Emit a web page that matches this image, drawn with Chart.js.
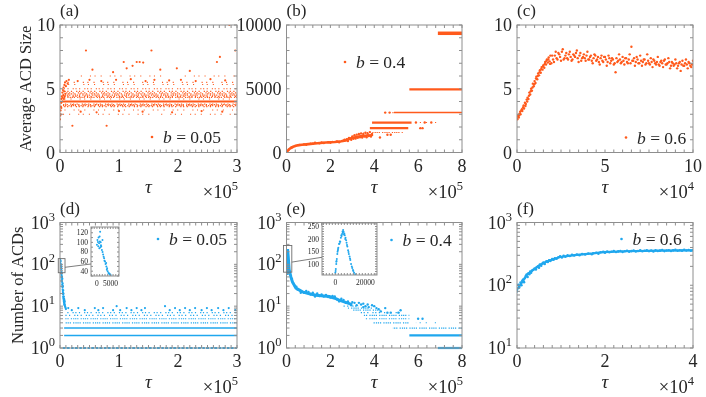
<!DOCTYPE html>
<html>
<head>
<meta charset="utf-8">
<script src="https://cdn.jsdelivr.net/npm/chart.js@4.4.1/dist/chart.umd.min.js"></script>
<style>
  html, body { margin: 0; padding: 0; background: #fff; }
  #fig { position: relative; width: 706px; height: 397px; overflow: hidden; background: #fff; }
  #fig canvas { position: absolute; left: 0; top: 0; }
</style>
</head>
<body>
<div id="fig">
  <canvas id="pa" width="706" height="397"></canvas>
  <canvas id="pb" width="706" height="397"></canvas>
  <canvas id="pc" width="706" height="397"></canvas>
  <canvas id="pd" width="706" height="397"></canvas>
  <canvas id="pe" width="706" height="397"></canvas>
  <canvas id="pf" width="706" height="397"></canvas>
  <canvas id="insd" width="706" height="397"></canvas>
  <canvas id="inse" width="706" height="397"></canvas>
</div>
<script>
// ---- data (tau in units of the axis multiplier) ----

// (a) b = 0.05, average ACD size, tau x 1e5
const aRowSize = [3.0, 3.0, 3.33, 3.6, 3.67, 3.75, 3.8, 4.0, 4.2, 4.33, 4.4, 4.5, 4.6, 4.67, 4.8, 5.0, 5.33, 5.5, 6.0, 6.0];
const aRowFrom = [0.05, 1.65, 0.05, 0.04, 0.04, 0.05, 0.06, 0.03, 0.05, 0.05, 0.06, 0.05, 0.06, 0.07, 0.08, 0.06, 0.09, 0.12, 0.28, 2.08];
const aRowTo   = [1.55, 3.0, 3.0, 3.0, 3.0, 3.0, 3.0, 3.0, 3.0, 3.0, 3.0, 3.0, 3.0, 3.0, 3.0, 3.0, 3.0, 3.0, 1.78, 3.0];
const aPoints = [
  [0.00, 2.6], [0.005, 2.9], [0.01, 3.3], [0.012, 3.0], [0.015, 3.6], [0.02, 3.9], [0.022, 3.5], [0.025, 4.2],
  [0.03, 4.4], [0.035, 4.0], [0.04, 4.7], [0.045, 4.3], [0.05, 4.9], [0.055, 4.5], [0.06, 5.1], [0.065, 4.2],
  [0.07, 4.8], [0.075, 5.3], [0.08, 4.4], [0.085, 5.5], [0.09, 4.6], [0.1, 5.2], [0.11, 5.6], [0.13, 5.4], [0.15, 5.7],
  [0.44, 8.0], [1.55, 8.0], [2.97, 8.0], [2.71, 7.5], [2.87, 10.0], [1.08, 7.1], [1.13, 6.6], [1.23, 6.8],
  [1.3, 7.1], [1.35, 7.1], [1.41, 7.05], [1.98, 6.6], [2.66, 7.1], [0.21, 2.1], [0.79, 2.1], [0.55, 6.5],
  [0.9, 6.3], [2.2, 6.4], [1.7, 6.5], [0.3, 5.6], [0.5, 5.7], [0.7, 5.6], [0.95, 5.7], [1.2, 5.75], [1.45, 5.6],
  [1.6, 5.7], [1.85, 5.65], [2.05, 5.7], [2.3, 5.6], [2.55, 5.75], [2.8, 5.65], [0.35, 3.2], [0.62, 3.15],
  [1.0, 3.25], [1.4, 3.2], [1.9, 3.15], [2.4, 3.25], [2.75, 3.2]
];

// (b) b = 0.4, average ACD size, tau x 1e5
const bRowSize = [9350, 4950, 3130, 3130, 2350, 2350, 1910, 1570, 1350];
const bRowFrom = [6.9, 5.6, 4.9, 4.45, 3.9, 5.7, 3.8, 3.5, 3.3];
const bRowTo   = [8.0, 8.0, 8.0, 4.9, 5.7, 6.9, 5.55, 5.3, 3.95];
const bCore = [
  [0, 0], [0.05, 120], [0.15, 300], [0.3, 450], [0.5, 560], [0.7, 610], [1.0, 660], [1.4, 730], [1.8, 780],
  [2.2, 820], [2.5, 880], [2.7, 950], [2.9, 1100], [3.1, 1180], [3.3, 1250], [3.5, 1300], [3.7, 1330], [3.9, 1350]
];
const bPoints = [
  [0.02, 60], [0.1, 230], [0.2, 380], [0.25, 420], [0.4, 520], [0.6, 600], [0.8, 640], [0.9, 600], [1.1, 700],
  [1.2, 690], [1.3, 760], [1.5, 720], [1.6, 780], [1.7, 750], [1.9, 800], [2.0, 760], [2.1, 830], [2.3, 860],
  [2.4, 800], [2.6, 920], [2.65, 1000], [2.75, 1050], [2.8, 900], [2.85, 1150], [2.95, 1000], [3.0, 1250],
  [3.05, 1080], [3.1, 1350], [3.15, 1100], [3.2, 1400], [3.25, 1150], [3.3, 1450], [3.35, 1200], [3.4, 1500],
  [3.45, 1180], [3.5, 1450], [3.55, 1250], [3.6, 1550], [3.65, 1200], [3.7, 1480], [3.75, 1300], [3.8, 1600],
  [3.85, 1250], [3.9, 1450], [4.26, 1175], [4.6, 1390], [4.75, 1390], [6.1, 1910], [6.2, 1910], [4.5, 3130],
  [4.7, 3130], [5.9, 2350], [6.3, 2350], [6.6, 2350]
];

// (c) b = 0.6, average ACD size, tau x 1e4
const cRise = [
  [0.00, 2.70], [0.05, 2.85], [0.10, 2.75], [0.15, 3.05], [0.20, 3.00], [0.25, 3.30], [0.30, 3.25], [0.35, 3.55],
  [0.40, 3.45], [0.45, 3.90], [0.50, 3.80], [0.55, 4.15], [0.60, 4.30], [0.65, 4.20], [0.70, 4.70], [0.75, 4.55],
  [0.80, 5.00], [0.85, 4.85], [0.90, 5.40], [0.95, 5.20], [1.00, 5.60], [1.05, 5.45], [1.10, 5.95], [1.15, 5.75],
  [1.20, 6.20], [1.25, 6.05], [1.30, 6.45], [1.35, 6.25], [1.40, 6.70], [1.45, 6.50], [1.50, 6.85], [1.55, 6.65],
  [1.60, 7.10], [1.65, 6.90], [1.70, 7.30], [1.75, 7.05], [1.80, 7.45], [1.85, 7.15], [1.90, 7.60], [1.95, 7.00],
  [0.02, 2.60], [0.08, 2.95], [0.12, 2.90], [0.18, 3.20], [0.28, 3.40], [0.38, 3.70], [0.48, 3.65], [0.58, 4.00],
  [0.68, 4.45], [0.78, 4.80], [0.88, 5.10], [0.98, 5.35], [1.08, 5.80], [1.18, 6.00], [1.28, 6.30], [1.38, 6.55],
  [1.48, 6.75], [1.58, 6.95], [1.68, 7.20], [1.78, 7.30], [1.88, 6.95]
];
const cPlateauA = [
  [2.0, 7.6], [2.1, 7.1], [2.2, 7.9], [2.3, 7.3], [2.4, 7.7], [2.5, 7.2], [2.6, 8.1], [2.7, 7.4], [2.8, 7.8],
  [2.9, 7.3], [3.0, 7.9], [3.1, 7.2], [3.2, 7.7], [3.3, 7.5], [3.4, 8.0], [3.5, 7.1], [3.6, 7.8], [3.7, 7.4],
  [3.8, 7.7], [3.9, 7.2], [4.0, 7.9], [4.1, 7.3], [4.2, 7.6], [4.3, 7.0], [4.4, 7.7], [4.5, 7.2], [4.6, 7.5],
  [4.7, 6.9], [4.8, 7.6], [4.9, 7.1], [5.0, 7.5], [5.1, 6.8], [5.2, 7.6], [5.3, 7.0], [5.4, 7.4], [5.5, 6.9],
  [5.6, 6.3], [5.7, 7.1], [5.8, 7.7], [5.9, 7.0], [6.0, 7.5], [6.1, 6.9], [6.2, 7.4], [6.3, 7.0], [6.4, 7.7],
  [6.5, 8.3], [6.6, 7.2], [6.7, 6.8], [6.8, 7.5], [6.9, 7.0], [7.0, 7.6], [7.1, 6.8], [7.2, 7.3], [7.3, 6.9],
  [7.4, 7.7], [7.5, 7.0], [7.6, 7.4], [7.7, 6.7], [7.8, 7.2], [7.9, 6.9], [8.0, 7.5], [8.1, 6.8], [8.2, 7.2],
  [8.3, 6.7], [8.4, 7.3], [8.5, 6.9], [8.6, 7.4], [8.7, 6.6], [8.8, 7.1], [8.9, 6.8], [9.0, 7.3], [9.1, 6.6],
  [9.2, 7.0], [9.3, 6.4], [9.4, 7.2], [9.5, 6.8], [9.6, 7.3], [9.7, 6.6], [9.8, 7.0], [9.9, 6.7], [10.0, 7.2]
];
const cPlateauB = [
  [2.05, 7.3], [2.15, 7.6], [2.25, 7.4], [2.35, 7.8], [2.45, 7.5], [2.55, 7.9], [2.65, 7.3], [2.75, 7.6],
  [2.85, 7.4], [2.95, 7.7], [3.05, 7.5], [3.15, 7.3], [3.25, 7.6], [3.35, 7.8], [3.45, 7.4], [3.55, 7.6],
  [3.65, 7.2], [3.75, 7.5], [3.85, 7.4], [3.95, 7.6], [4.05, 7.3], [4.15, 7.5], [4.25, 7.2], [4.35, 7.4],
  [4.45, 7.6], [4.55, 7.3], [4.65, 7.1], [4.75, 7.4], [4.85, 7.2], [4.95, 7.5], [5.05, 7.3], [5.15, 7.1],
  [5.25, 7.4], [5.35, 7.2], [5.45, 7.3], [5.55, 7.0], [5.65, 7.4], [5.75, 7.2], [5.85, 7.3], [5.95, 7.1],
  [6.05, 7.2], [6.15, 7.4], [6.25, 7.1], [6.35, 7.3], [6.45, 7.0], [6.55, 7.2], [6.65, 7.4], [6.75, 7.1],
  [6.85, 7.3], [6.95, 7.0], [7.05, 7.2], [7.15, 7.1], [7.25, 7.3], [7.35, 7.0], [7.45, 7.2], [7.55, 6.9],
  [7.65, 7.1], [7.75, 7.3], [7.85, 7.0], [7.95, 7.1], [8.05, 6.9], [8.15, 7.1], [8.25, 7.0], [8.35, 7.2],
  [8.45, 6.9], [8.55, 7.0], [8.65, 7.1], [8.75, 6.8], [8.85, 7.0], [8.95, 6.9], [9.05, 7.0], [9.15, 6.8],
  [9.25, 7.1], [9.35, 6.9], [9.45, 6.8], [9.55, 7.0], [9.65, 6.9], [9.75, 7.1], [9.85, 6.8], [9.95, 6.9]
];

// (d) b = 0.05, number of ACDs, tau x 1e5
const dRowCount = [1, 2, 3, 4, 5, 6, 7];
const dRowFrom  = [0.05, 0.07, 0.07, 0.08, 0.08, 0.09, 0.1];
const dRowTo    = [3, 3, 3, 3, 3, 3, 3];
const dDecay = [
  [0, 112], [0.003, 130], [0.005, 118], [0.008, 105], [0.01, 95], [0.012, 120], [0.015, 100], [0.018, 90],
  [0.02, 85], [0.022, 75], [0.025, 65], [0.028, 55], [0.03, 48], [0.033, 42], [0.035, 38], [0.038, 33],
  [0.04, 30], [0.043, 28], [0.045, 25], [0.048, 23], [0.05, 21], [0.053, 19], [0.055, 17], [0.058, 16],
  [0.06, 15], [0.063, 14], [0.065, 13], [0.068, 12], [0.07, 13], [0.073, 11], [0.075, 12], [0.078, 10.5],
  [0.08, 11], [0.085, 10], [0.09, 9.5], [0.095, 9], [0.1, 8.5], [0.02, 60], [0.03, 62], [0.035, 50],
  [0.04, 45], [0.045, 35], [0.05, 30], [0.055, 24], [0.06, 20], [0.065, 17], [0.07, 15], [0.075, 14], [0.08, 13]
];
const dOutliers = [
  [0.14, 9], [0.2, 8], [0.31, 9], [0.42, 8], [0.59, 9], [0.65, 8], [0.73, 9], [0.9, 8], [0.96, 10], [1.02, 8],
  [1.13, 9], [1.21, 8], [1.3, 9], [1.38, 8], [1.44, 9], [1.78, 10], [1.86, 8], [1.95, 9], [2.03, 8], [2.12, 9],
  [2.2, 8], [2.29, 9], [2.4, 8], [2.49, 9], [2.57, 8], [2.68, 9], [2.77, 8], [2.86, 9], [2.97, 8]
];
const dInset = [
  [0, 95], [200, 105], [370, 101], [500, 92], [600, 110], [800, 98], [900, 88], [1000, 112], [1100, 102],
  [1200, 122], [1300, 90], [1400, 100], [1500, 94], [1600, 92], [1840, 84], [2060, 105], [2100, 80], [2300, 75],
  [2500, 70], [2680, 67], [2800, 62], [3000, 60], [3200, 55], [3420, 57], [3500, 50], [3680, 43], [3800, 46],
  [4000, 40], [4270, 36], [4500, 35], [4700, 34], [4890, 33], [5100, 32]
];

// (e) b = 0.4, number of ACDs, tau x 1e5
const eRowCount = [10, 9, 8, 7, 6, 5, 4, 4, 3, 2, 1];
const eRowFrom  = [2.6, 2.8, 3.0, 3.3, 3.5, 3.6, 3.9, 5.9, 4.85, 5.6, 6.9];
const eRowTo    = [3.3, 3.9, 4.3, 5.2, 5.6, 5.6, 5.6, 6.9, 8.0, 8.0, 8.0];
const eCore = [
  [0, 60], [0.02, 150], [0.05, 230], [0.08, 150], [0.12, 75], [0.2, 50], [0.27, 38], [0.43, 27], [0.73, 22],
  [1.0, 20], [1.34, 18.3], [1.95, 17], [2.2, 15.5], [2.4, 14], [2.6, 12.8], [2.87, 11.5], [3.0, 11]
];
const ePoints = [
  [0.1, 90], [0.15, 62], [0.25, 45], [0.3, 36], [0.35, 32], [0.5, 25], [0.6, 24], [0.8, 21], [0.9, 23],
  [1.1, 19], [1.2, 21], [1.5, 17.5], [1.6, 19], [1.7, 17], [1.8, 18.5], [2.0, 16], [2.1, 17.5], [2.3, 14.5],
  [2.5, 15], [2.7, 12], [2.8, 13], [2.95, 10.5], [3.1, 12], [3.2, 10.5], [3.4, 11], [3.6, 10], [3.75, 9.5],
  [3.9, 10.5], [4.2, 8.5], [4.3, 7.5], [4.5, 9], [4.6, 7], [4.75, 7], [5.1, 7], [5.2, 8], [6.0, 5], [6.2, 5],
  [4.0, 10], [3.5, 11.5], [0.45, 29], [0.65, 21], [1.0, 22], [1.3, 17], [1.4, 20], [1.9, 16.5], [2.2, 17],
  [2.4, 13], [2.6, 14], [3.0, 12.5], [3.3, 12], [3.5, 9.5], [3.7, 11], [4.1, 9]
];
const eInset = [
  [0, 65], [300, 80], [600, 100], [670, 109], [1000, 120], [1300, 140], [1500, 149], [1700, 155], [2000, 165],
  [2500, 180], [3000, 190], [3300, 189], [3700, 205], [4000, 215], [4500, 220], [5000, 225], [5500, 229],
  [6000, 222], [6300, 215], [6800, 205], [7200, 195], [7800, 176], [8000, 170], [8500, 155], [9000, 140],
  [9500, 130], [10000, 116], [10500, 100], [11000, 90], [11800, 76], [12000, 72], [12500, 65], [13300, 59],
  [200, 72], [800, 112], [1800, 160], [2800, 182], [4200, 212], [4800, 230], [5200, 236], [5800, 218],
  [6600, 200], [7500, 185], [8800, 148], [9800, 122], [11300, 84]
];

// (f) b = 0.6, number of ACDs, tau x 1e4
const fPoints = [
  [0, 80], [0.03, 102], [0.05, 92], [0.08, 110], [0.1, 100], [0.12, 118], [0.14, 123], [0.16, 112], [0.18, 130],
  [0.2, 140], [0.22, 148], [0.24, 135], [0.26, 155], [0.28, 150], [0.3, 165], [0.32, 158], [0.34, 172],
  [0.37, 177], [0.4, 185], [0.43, 178], [0.45, 195], [0.48, 200], [0.5, 190], [0.52, 214], [0.55, 205],
  [0.58, 222], [0.6, 230], [0.63, 218], [0.67, 240], [0.7, 235], [0.73, 250], [0.76, 245], [0.8, 262],
  [0.83, 255], [0.86, 270], [0.9, 265], [0.94, 280], [0.98, 288], [1.02, 278], [1.06, 295], [1.1, 285],
  [1.15, 300], [1.2, 292], [1.25, 305], [1.3, 298], [1.36, 308], [1.42, 300], [1.48, 315], [1.55, 310],
  [1.62, 320], [1.7, 312], [1.73, 324], [1.8, 330], [1.85, 318], [1.9, 335], [1.96, 340], [2.0, 330],
  [2.05, 345], [2.1, 335], [2.15, 342], [2.2, 350], [2.25, 338], [2.3, 346], [2.35, 352], [2.4, 340],
  [2.45, 348], [2.5, 355], [2.55, 343], [2.6, 350], [2.65, 358], [2.7, 345], [2.75, 352], [2.8, 360],
  [2.85, 348], [2.9, 355], [2.95, 362], [3.0, 350], [3.05, 357], [3.1, 346], [3.15, 360], [3.2, 352],
  [3.25, 356], [3.3, 365], [3.35, 350], [3.4, 358], [3.45, 362], [3.5, 352], [3.55, 360], [3.6, 366],
  [3.65, 354], [3.7, 362], [3.75, 356], [3.8, 368], [3.85, 358], [3.9, 364], [3.95, 356], [4.0, 362]
];
const fCore = [
  [0, 85], [0.14, 118], [0.22, 145], [0.37, 175], [0.52, 210], [0.67, 238], [0.98, 282], [1.36, 305],
  [1.73, 322], [1.96, 336], [2.5, 348], [3.25, 355], [4.0, 360]
];

// ---- look ----
const W = 706, H = 397;
const ORANGE = '#ff5a1c';
const BLUE = '#1fa7ee';
const FRAME = '#8e8e8e';
const INK = '#262626';
const SERIF = '"Liberation Serif", "Times New Roman", serif';

const LOOK = {
  heavy:  { w: 3.5, dash: [] },
  thick:  { w: 2.2, dash: [] },
  solid:  { w: 1.5, dash: [] },
  axis:   { w: 2.2, dash: [2.5, 1.2, 3, 1.5] },
  dense:  { w: 1.2, dash: [1.2, 0.9, 1.2, 2.2, 1.2, 1.1, 1.2, 0.8] },
  medium: { w: 1.2, dash: [1.2, 2.4, 1.2, 4, 1.2, 1.6] },
  sparse: { w: 1.1, dash: [1.1, 5, 1.1, 8, 1.1, 3.5] }
};
const aRowLook = ['sparse', 'sparse', 'sparse', 'medium', 'dense', 'medium', 'medium', 'thick', 'sparse', 'dense',
                  'medium', 'dense', 'medium', 'medium', 'medium', 'medium', 'sparse', 'sparse', 'sparse', 'sparse'];
const bRowLook = ['heavy', 'thick', 'solid', 'sparse', 'thick', 'sparse', 'thick', 'dense', 'dense'];
const dRowLook = ['axis', 'solid', 'solid', 'dense', 'dense', 'medium', 'medium'];
const eRowLook = ['medium', 'dense', 'dense', 'medium', 'dense', 'dense', 'dense', 'sparse', 'dense', 'thick', 'thick'];

function pts(pairs) { return pairs.map(p => ({ x: p[0], y: p[1] })); }

function rows(levels, from, to, looks, color) {
  return levels.map((y, i) => {
    const lk = LOOK[looks[i]];
    return {
      data: [{ x: from[i], y }, { x: to[i], y }],
      showLine: true, pointRadius: 0, borderColor: color,
      borderWidth: lk.w, borderDash: lk.dash, borderDashOffset: i * 2.3, clip: false
    };
  });
}
function dots(pairs, color, r) {
  return { data: pts(pairs), showLine: false, pointRadius: r || 1.1, pointBorderWidth: 0, pointBackgroundColor: color };
}
function core(pairs, color, w) {
  return { data: pts(pairs), showLine: true, pointRadius: 0, borderColor: color, borderWidth: w, tension: 0 };
}

function steps(a, b, s) { const r = []; for (let v = a; v <= b + 1e-9; v += s) r.push(+v.toFixed(6)); return r; }
function logTicks(lo, hi) {
  const r = [];
  for (let e = lo; e < hi; e++) for (let m = 1; m <= 9; m++) r.push(m * Math.pow(10, e));
  r.push(Math.pow(10, hi));
  return r;
}

const DECO = {};

function font(sz, style) { return (style ? style + ' ' : '') + sz + 'px ' + SERIF; }

const decoPlugin = {
  id: 'deco',
  beforeDatasetsDraw(chart) {
    const d = DECO[chart.canvas.id];
    if (!d || !d.inset) return;
    const c = chart.ctx, a = chart.chartArea;
    c.save();
    c.fillStyle = '#fff';
    c.fillRect(a.left, a.top, a.right - a.left, a.bottom - a.top);
    c.restore();
  },
  afterDraw(chart) {
    const d = DECO[chart.canvas.id];
    if (!d) return;
    const c = chart.ctx, a = chart.chartArea, xs = chart.scales.x, ys = chart.scales.y;
    c.save();
    c.strokeStyle = FRAME;
    c.lineWidth = 1;
    c.strokeRect(a.left, a.top, a.right - a.left, a.bottom - a.top);
    const tl = d.tick;
    c.beginPath();
    d.xTicks.forEach(v => {
      const p = xs.getPixelForValue(v);
      c.moveTo(p, a.bottom); c.lineTo(p, a.bottom - tl);
      c.moveTo(p, a.top); c.lineTo(p, a.top + tl);
    });
    d.yTicks.forEach(v => {
      const p = ys.getPixelForValue(v);
      c.moveTo(a.left, p); c.lineTo(a.left + tl, p);
      c.moveTo(a.right, p); c.lineTo(a.right - tl, p);
    });
    c.stroke();

    // tick labels
    c.fillStyle = INK;
    c.font = font(d.fs);
    c.textAlign = 'center';
    c.textBaseline = 'alphabetic';
    d.xMajor.forEach((v, i) => c.fillText(d.xText[i], xs.getPixelForValue(v), a.bottom + d.xOff));
    d.yMajor.forEach((v, i) => {
      const p = ys.getPixelForValue(v);
      if (d.yPow) {
        c.font = font(d.supFs);
        const sw = c.measureText(d.yPow[i]).width;
        c.textAlign = 'left';
        c.fillText(d.yPow[i], a.left - d.yGap - sw, p + d.yBase - 8);
        c.font = font(d.fs);
        c.textAlign = 'right';
        c.fillText('10', a.left - d.yGap - sw, p + d.yBase);
      } else {
        c.textAlign = 'right';
        c.fillText(d.yText[i], a.left - d.yGap, p + d.yBase);
      }
    });

    if (d.inset) {
      // zoom box on the parent axes and the link line to this inset
      const px = d.parent.scales.x, py = d.parent.scales.y;
      const bx0 = px.getPixelForValue(d.box[0]), bx1 = px.getPixelForValue(d.box[1]);
      const by0 = py.getPixelForValue(d.box[2]), by1 = py.getPixelForValue(d.box[3]);
      c.strokeStyle = '#6e6e6e';
      c.lineWidth = 0.9;
      c.strokeRect(bx0, by1, bx1 - bx0, by0 - by1);
      c.beginPath();
      c.moveTo(bx1, py.getPixelForValue(d.link[0]));
      c.lineTo(a.left, ys.getPixelForValue(d.link[1]));
      c.stroke();
      c.restore();
      return;
    }

    // panel tag
    c.textAlign = 'left';
    c.font = font(17);
    c.fillText(d.tag, a.left, a.top - 9);

    // x title and multiplier
    c.textAlign = 'center';
    c.font = font(19, 'italic');
    c.fillText('\u03C4', (a.left + a.right) / 2, a.bottom + 40);
    c.font = font(12.5);
    const mw = c.measureText(d.mult).width;
    c.textAlign = 'left';
    c.fillText(d.mult, a.right + 1 - mw, a.bottom + 37);
    c.font = font(18.5);
    c.textAlign = 'right';
    c.fillText('\u00D710', a.right + 1 - mw, a.bottom + 45);

    // y title
    if (d.ylabel) {
      c.save();
      c.translate(d.ylx, (a.top + a.bottom) / 2);
      c.rotate(-Math.PI / 2);
      c.textAlign = 'center';
      c.textBaseline = 'middle';
      c.font = font(16.5);
      c.fillText(d.ylabel, 0, 0);
      c.restore();
    }

    // legend
    const lg = d.legend;
    c.fillStyle = lg.color;
    c.beginPath();
    c.arc(lg.mx, lg.my, 1.3, 0, Math.PI * 2);
    c.fill();
    c.fillStyle = INK;
    c.textAlign = 'left';
    c.font = font(17.5, 'italic');
    c.fillText('b', lg.mx + 11, lg.my + 6);
    const bw = c.measureText('b').width;
    c.font = font(17.5);
    c.fillText(' = ' + lg.txt, lg.mx + 11 + bw, lg.my + 6);
    c.restore();
  }
};

function makeChart(id, rect, xScale, yScale, datasets) {
  return new Chart(document.getElementById(id), {
    type: 'scatter',
    data: { datasets },
    options: {
      responsive: false,
      animation: false,
      events: [],
      layout: { padding: { left: rect[0], top: rect[1], right: W - rect[2], bottom: H - rect[3] } },
      plugins: { legend: { display: false }, tooltip: { enabled: false } },
      scales: {
        x: Object.assign({ type: 'linear', display: false }, xScale),
        y: Object.assign({ type: 'linear', display: false }, yScale)
      }
    },
    plugins: [decoPlugin]
  });
}

const mainText = { tick: 3, fs: 18, supFs: 12.5, xOff: 19, yGap: 5, yBase: 6 };

// (a)
DECO.pa = Object.assign({}, mainText, {
  xTicks: steps(0, 3, 0.1), xMajor: [0, 1, 2, 3], xText: ['0', '1', '2', '3'],
  yTicks: steps(0, 10, 1), yMajor: [0, 5, 10], yText: ['0', '5', '10'],
  tag: '(a)', mult: '5', ylabel: 'Average ACD Size', ylx: 27,
  legend: { mx: 152, my: 137, txt: '0.05', color: ORANGE }
});
makeChart('pa', [60, 25, 237, 152.5], { min: 0, max: 3 }, { min: 0, max: 10 },
  rows(aRowSize, aRowFrom, aRowTo, aRowLook, ORANGE).concat([dots(aPoints, ORANGE)]));

// (b)
DECO.pb = Object.assign({}, mainText, {
  xTicks: steps(0, 8, 0.4), xMajor: [0, 2, 4, 6, 8], xText: ['0', '2', '4', '6', '8'],
  yTicks: steps(0, 10000, 1000), yMajor: [0, 5000, 10000], yText: ['0', '5000', '10000'],
  tag: '(b)', mult: '5',
  legend: { mx: 345, my: 62, txt: '0.4', color: ORANGE }
});
makeChart('pb', [286.5, 25, 462, 152.5], { min: 0, max: 8 }, { min: 0, max: 10000 },
  rows(bRowSize, bRowFrom, bRowTo, bRowLook, ORANGE).concat([core(bCore, ORANGE, 2.6), dots(bPoints, ORANGE, 1.2)]));

// (c)
DECO.pc = Object.assign({}, mainText, {
  xTicks: steps(0, 10, 0.5), xMajor: [0, 5, 10], xText: ['0', '5', '10'],
  yTicks: steps(0, 10, 1), yMajor: [0, 5, 10], yText: ['0', '5', '10'],
  tag: '(c)', mult: '4',
  legend: { mx: 626, my: 137.5, txt: '0.6', color: ORANGE }
});
makeChart('pc', [517, 25, 693, 152.5], { min: 0, max: 10 }, { min: 0, max: 10 },
  [dots(cRise, ORANGE, 1.2), dots(cPlateauA, ORANGE, 1.2), dots(cPlateauB, ORANGE, 1.2)]);

// (d)
DECO.pd = Object.assign({}, mainText, {
  xTicks: steps(0, 3, 0.1), xMajor: [0, 1, 2, 3], xText: ['0', '1', '2', '3'],
  yTicks: logTicks(0, 3), yMajor: [1, 10, 100, 1000], yPow: ['0', '1', '2', '3'],
  tag: '(d)', mult: '5', ylabel: 'Number of ACDs', ylx: 19,
  legend: { mx: 158, my: 239, txt: '0.05', color: BLUE }
});
const chartD = makeChart('pd', [60, 222.5, 237, 348], { min: 0, max: 3 }, { type: 'logarithmic', min: 1, max: 1000 },
  rows(dRowCount, dRowFrom, dRowTo, dRowLook, BLUE).concat([dots(dDecay, BLUE), dots(dOutliers, BLUE)]));

// (e)
DECO.pe = Object.assign({}, mainText, {
  xTicks: steps(0, 8, 0.4), xMajor: [0, 2, 4, 6, 8], xText: ['0', '2', '4', '6', '8'],
  yTicks: logTicks(0, 3), yMajor: [1, 10, 100, 1000], yPow: ['0', '1', '2', '3'],
  tag: '(e)', mult: '5',
  legend: { mx: 391.5, my: 240, txt: '0.4', color: BLUE }
});
const chartE = makeChart('pe', [286.5, 222.5, 462, 348], { min: 0, max: 8 }, { type: 'logarithmic', min: 1, max: 1000 },
  rows(eRowCount, eRowFrom, eRowTo, eRowLook, BLUE).concat([core(eCore, BLUE, 3), dots(ePoints, BLUE, 1.2)]));

// (f)
DECO.pf = Object.assign({}, mainText, {
  xTicks: steps(0, 4, 0.2), xMajor: [0, 2, 4], xText: ['0', '2', '4'],
  yTicks: logTicks(1, 3), yMajor: [10, 100, 1000], yPow: ['1', '2', '3'],
  tag: '(f)', mult: '4',
  legend: { mx: 621.5, my: 239, txt: '0.6', color: BLUE }
});
makeChart('pf', [517, 222.5, 693, 348], { min: 0, max: 4 }, { type: 'logarithmic', min: 10, max: 1000 },
  [core(fCore, BLUE, 2.2), dots(fPoints, BLUE, 1.3)]);

// insets
DECO.insd = {
  inset: true, tick: 2, fs: 7.5, supFs: 6, xOff: 10, yGap: 3, yBase: 2.5,
  xTicks: steps(-2000, 8000, 1000), xMajor: [0, 5000], xText: ['0', '5000'],
  yTicks: steps(30, 130, 10), yMajor: [40, 60, 80, 100, 120], yText: ['40', '60', '80', '100', '120'],
  parent: chartD, box: [-0.029, 0.085, 63, 137], link: [85, 55]
};
makeChart('insd', [91, 227, 119, 276], { min: -2200, max: 8200 }, { min: 30, max: 132 },
  [dots(dInset, BLUE, 1)]);

DECO.inse = {
  inset: true, tick: 2, fs: 7.5, supFs: 6, xOff: 10, yGap: 3, yBase: 2.5,
  xTicks: steps(-8000, 26000, 2000), xMajor: [0, 20000], xText: ['0', '20000'],
  yTicks: steps(60, 260, 10), yMajor: [100, 150, 200, 250], yText: ['100', '150', '200', '250'],
  parent: chartE, box: [-0.137, 0.242, 65, 282], link: [113, 127]
};
makeChart('inse', [322, 223, 377, 275], { min: -8900, max: 27800 }, { min: 56, max: 264 },
  [dots(eInset, BLUE, 1)]);
</script>
</body>
</html>
